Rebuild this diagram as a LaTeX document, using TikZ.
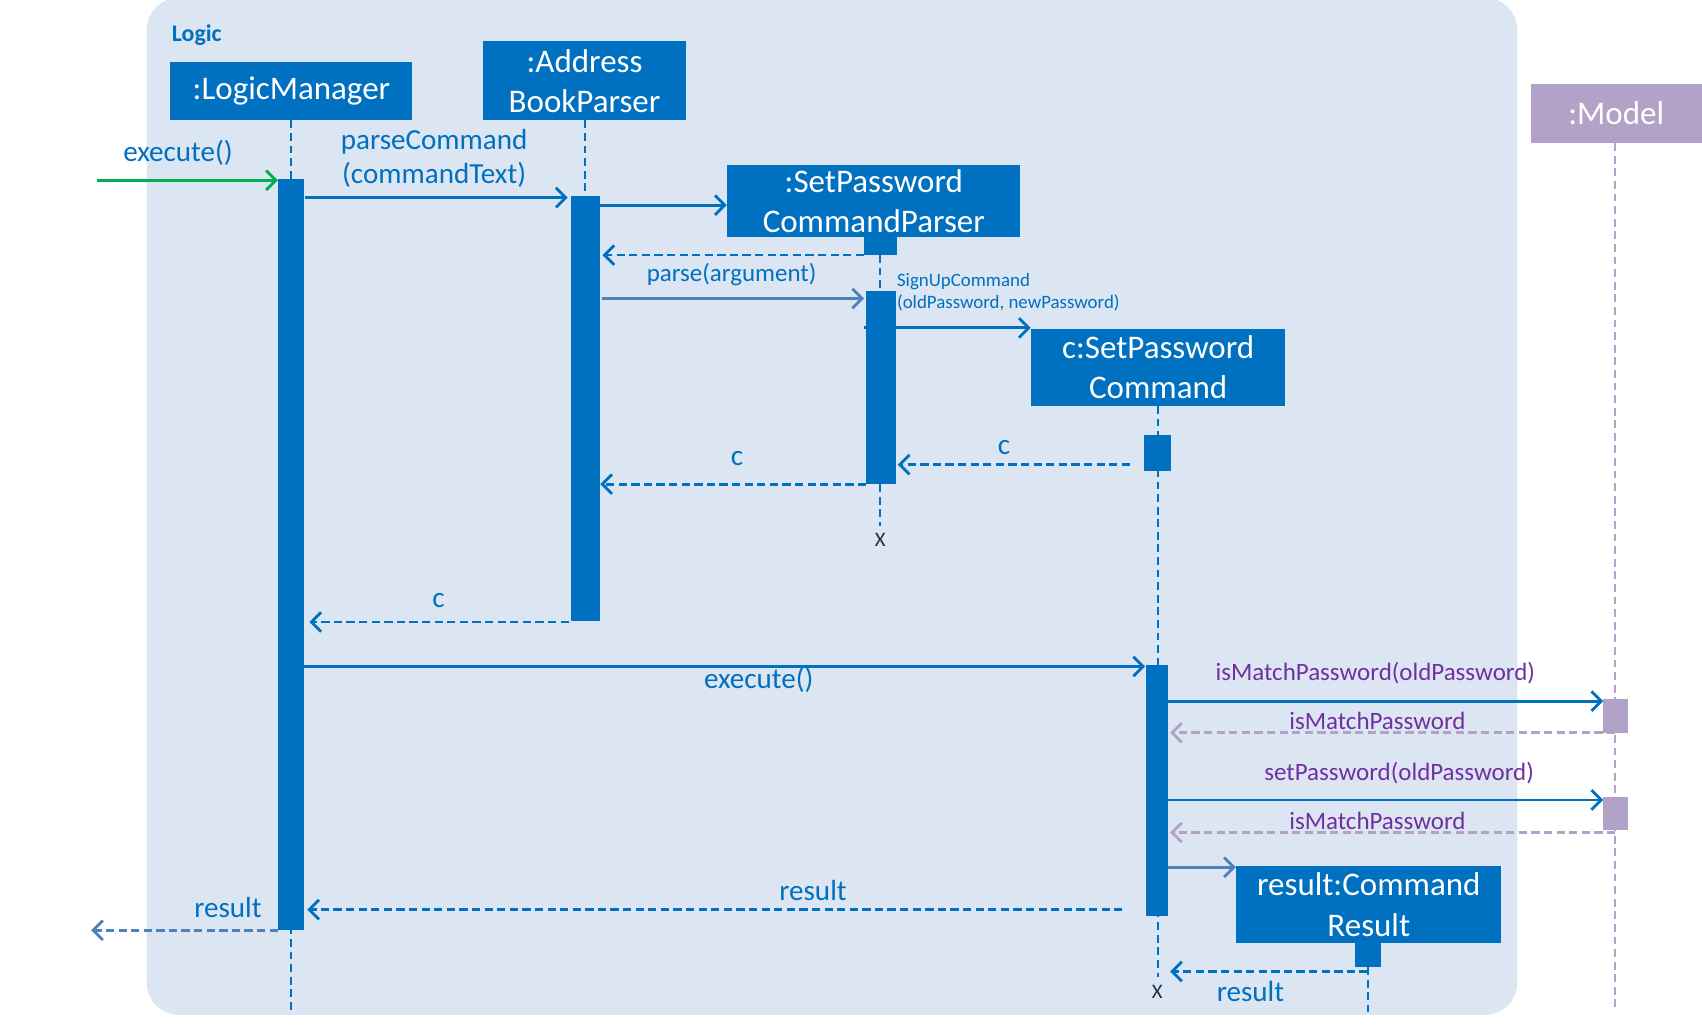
\documentclass[tikz,border=0pt]{standalone}
\usepackage{fontspec}
\setmainfont{Carlito}
\usetikzlibrary{arrows.meta}

\definecolor{framebg}{HTML}{DCE6F2}
\definecolor{uiblue}{HTML}{0070C0}
\definecolor{greyblue}{HTML}{4F81BD}
\definecolor{modelbox}{HTML}{B3A2C7}
\definecolor{modeltext}{HTML}{7030A0}
\definecolor{callgreen}{HTML}{00B050}
\definecolor{xmark}{HTML}{1F2D4F}

\tikzset{
  objbox/.style={fill=uiblue, text=white, inner sep=0pt, align=center,
    font=\fontsize{15.2}{18.5}\selectfont},
  modelobj/.style={objbox, fill=modelbox},
  lifeline/.style={uiblue, line width=1pt, dash pattern=on 3.6pt off 2.2pt},
  modelline/.style={lifeline, modelbox},
  actbar/.style={fill=uiblue},
  modelbar/.style={fill=modelbox},
  call/.style={uiblue, line width=1.3pt, -{Straight Barb[length=4.5pt,width=9pt,line width=1.3pt]}},
  reply/.style={call, dash pattern=on 3.8pt off 2pt},
  msg/.style={text=uiblue, inner sep=0pt, align=center, font=\fontsize{13.4}{16}\selectfont},
  modelmsg/.style={msg, text=modeltext, font=\fontsize{11.5}{14}\selectfont},
  smallmsg/.style={msg, align=left, anchor=west, font=\fontsize{8.7}{10}\selectfont},
  endmark/.style={text=xmark, inner sep=0pt, font=\fontsize{9.5}{11}\selectfont},
}

\begin{document}
\begin{tikzpicture}[x=0.5pt, y=-0.5pt]
\useasboundingbox (0,0) rectangle (1568,946);

% Logic component frame
\fill[framebg, rounded corners=15pt] (135,-2) rectangle (1398,935);
\node[text=uiblue, anchor=west, inner sep=0pt, font=\fontsize{11}{13}\selectfont\bfseries] (logiclbl) at (158,32) {Logic};

% object boxes
\node[objbox, minimum width=111.5pt, minimum height=27pt] (lm) at (268.5,84) {:LogicManager};
\node[objbox, minimum width=93.5pt, minimum height=36.5pt] (abp) at (538.5,74.5) {:Address\\BookParser};
\node[objbox, minimum width=135pt, minimum height=33pt] (spcp) at (805,185) {:SetPassword\\CommandParser};
\node[objbox, minimum width=117pt, minimum height=35.5pt] (spc) at (1067,338.5) {c:SetPassword\\Command};
\node[objbox, minimum width=122pt, minimum height=35.5pt] (res) at (1261,833.5) {result:Command\\Result};
\node[modelobj, minimum width=79pt, minimum height=27.5pt] (model) at (1489,104.5) {:Model};

% lifelines
\draw[lifeline] (268,111) -- (268,932);
\draw[lifeline] (539,111) -- (539,181);
\draw[lifeline] (811,235) -- (811,268);
\draw[lifeline] (811,446) -- (811,485);
\draw[lifeline] (1067,374) -- (1067,900);
\draw[lifeline] (1260,891) -- (1260,932);
\draw[modelline] (1488,132) -- (1488,932);

% activation bars
\fill[actbar] (256,165) rectangle (280,857);
\fill[actbar] (526,181) rectangle (553,572);
\fill[actbar] (796,218) rectangle (826,235);
\fill[actbar] (798,268) rectangle (825,446);
\fill[actbar] (1054,401) rectangle (1079,434);
\fill[actbar] (1056,613) rectangle (1076,844);
\fill[actbar] (1248,869) rectangle (1272,891);
\fill[modelbar] (1477,644) rectangle (1500,675);
\fill[modelbar] (1477,734) rectangle (1500,765);

% message end points
\coordinate (in0) at (89,166);   \coordinate (lmA) at (256,166);
\coordinate (lmB) at (281,182);  \coordinate (abpA) at (523,182);
\coordinate (abpB) at (553,189);
\coordinate (spcpR) at (796,235); \coordinate (abpC) at (555,235);
\coordinate (abpD) at (555,275); \coordinate (spcpA) at (796,275);
\coordinate (spcpB) at (796,302);
\coordinate (spcR) at (1041,428); \coordinate (spcpC) at (827,428);
\coordinate (spcpD) at (798,446); \coordinate (abpE) at (553,446);
\coordinate (abpF) at (524,573); \coordinate (lmC) at (285,573);
\coordinate (lmD) at (280,614);  \coordinate (spcA) at (1055,614);
\coordinate (spcB) at (1076,646); \coordinate (mdA) at (1477,646);
\coordinate (mdB) at (1488,675); \coordinate (spcC) at (1078,675);
\coordinate (spcD) at (1076,737); \coordinate (mdC) at (1477,737);
\coordinate (mdD) at (1488,767); \coordinate (spcE) at (1078,767);
\coordinate (spcF) at (1076,799);
\coordinate (spcG) at (1034,838); \coordinate (lmE) at (283,838);
\coordinate (lmF) at (256,857);  \coordinate (out0) at (84,857);
\coordinate (resA) at (1260,895); \coordinate (spcH) at (1078,895);

% messages
\draw[call, callgreen] (in0) -- (lmA);
\node[msg] (m1) at (164,141) {execute()};
\draw[call] (lmB) -- (abpA);
\node[msg] (m2) at (400,146) {parseCommand\\(commandText)};
\draw[call] (abpB) -- (spcp.west |- abpB);
\draw[reply] (spcpR) -- (abpC);
\draw[call, greyblue] (abpD) -- (spcpA);
\node[msg, font=\fontsize{11.5}{14}\selectfont] (m3) at (674,253) {parse(argument)};
\draw[call] (spcpB) -- (spc.north west |- spcpB);
\node[smallmsg] (m4) at (826,269) {SignUpCommand\\(oldPassword, newPassword)};
\draw[reply] (spcR) -- (spcpC);
\node[msg] (m5) at (925,412) {c};
\draw[reply] (spcpD) -- (abpE);
\node[msg] (m6) at (679,422) {c};
\draw[reply] (abpF) -- (lmC);
\node[msg] (m7) at (404,553) {c};
\draw[call] (lmD) -- (spcA);
\node[msg] (m8) at (699,626) {execute()};
\draw[call] (spcB) -- (mdA);
\node[modelmsg] (m9) at (1267,620) {isMatchPassword(oldPassword)};
\draw[reply, modelbox] (mdB) -- (spcC);
\node[modelmsg] (m10) at (1269,664) {isMatchPassword};
\draw[call] (spcD) -- (mdC);
\node[modelmsg] (m11) at (1289,712) {setPassword(oldPassword)};
\draw[reply, modelbox] (mdD) -- (spcE);
\node[modelmsg] (m12) at (1269,756) {isMatchPassword};
\draw[call, greyblue] (spcF) -- (res.west |- spcF);
\draw[reply] (spcG) -- (lmE);
\node[msg] (m13) at (749,820) {result};
\draw[reply, greyblue] (lmF) -- (out0);
\node[msg] (m14) at (210,836) {result};
\draw[reply] (resA) -- (spcH);
\node[msg] (m15) at (1152,913) {result};

% object destruction marks
\node[endmark] (x1) at (811,497) {X};
\node[endmark] (x2) at (1066,914) {X};
\end{tikzpicture}
\end{document}
